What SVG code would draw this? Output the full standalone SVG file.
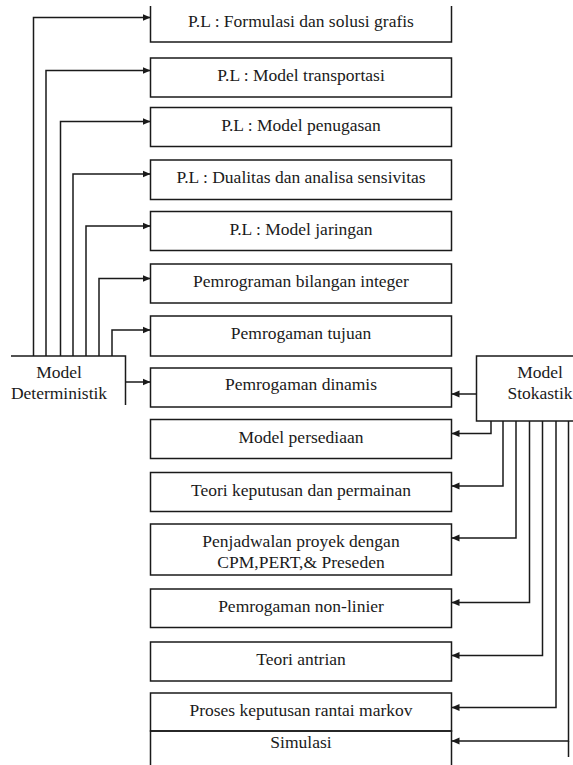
<svg xmlns="http://www.w3.org/2000/svg" width="573" height="765" viewBox="0 0 573 765">
<style>
.box{fill:#fff;stroke:#1a1a1a;stroke-width:1.5}
.open{fill:none;stroke:#1a1a1a;stroke-width:1.5}
.lbl{font-family:"Liberation Serif","Times New Roman",serif;font-size:17.5px;fill:#1a1a1a;text-anchor:middle}
.con path{fill:none;stroke:#1a1a1a;stroke-width:1.5;marker-end:url(#ah)}
.con path.plain{marker-end:none}
</style>
<defs>
<marker id="ah" markerUnits="userSpaceOnUse" markerWidth="10" markerHeight="10" refX="8" refY="4" orient="auto">
<path d="M0,0.5 L8,4 L0,7.5 Z" fill="#1a1a1a"/>
</marker>
</defs>
<rect width="573" height="765" fill="#fff"/>

<g id="n1"><path class="open" d="M150.5,6 V42 H451.5 V6"/><text class="lbl" x="301" y="26.5">P.L : Formulasi dan solusi grafis</text></g>
<g id="n2"><rect class="box" x="150.5" y="58" width="301" height="39"/><text class="lbl" x="301" y="81">P.L : Model transportasi</text></g>
<g id="n3"><rect class="box" x="150.5" y="107.5" width="301" height="39"/><text class="lbl" x="301" y="130.5">P.L : Model penugasan</text></g>
<g id="n4"><rect class="box" x="150.5" y="160" width="301" height="39.5"/><text class="lbl" x="301" y="183">P.L : Dualitas dan analisa sensivitas</text></g>
<g id="n5"><rect class="box" x="150.5" y="211.5" width="301" height="39"/><text class="lbl" x="301" y="234.5">P.L : Model jaringan</text></g>
<g id="n6"><rect class="box" x="150.5" y="264" width="301" height="39"/><text class="lbl" x="301" y="287">Pemrograman bilangan integer</text></g>
<g id="n7"><rect class="box" x="150.5" y="316" width="301" height="40"/><text class="lbl" x="301" y="339">Pemrogaman tujuan</text></g>
<g id="n8"><rect class="box" x="150.5" y="368" width="301" height="39"/><text class="lbl" x="301" y="390">Pemrogaman dinamis</text></g>
<g id="n9"><rect class="box" x="150.5" y="419.5" width="301" height="39"/><text class="lbl" x="301" y="443">Model persediaan</text></g>
<g id="n10"><rect class="box" x="150.5" y="472.5" width="301" height="39"/><text class="lbl" x="301" y="495.5">Teori keputusan dan permainan</text></g>
<g id="n11"><rect class="box" x="150.5" y="524" width="301" height="51"/><text class="lbl" x="301" y="546.5">Penjadwalan proyek dengan</text><text class="lbl" x="301" y="568">CPM,PERT,&amp; Preseden</text></g>
<g id="n12"><rect class="box" x="150.5" y="589" width="301" height="38.5"/><text class="lbl" x="301" y="612">Pemrogaman non-linier</text></g>
<g id="n13"><rect class="box" x="150.5" y="642" width="301" height="39"/><text class="lbl" x="301" y="665">Teori antrian</text></g>
<g id="n14"><rect class="box" x="150.5" y="693" width="301" height="38"/><text class="lbl" x="301" y="716">Proses keputusan rantai markov</text></g>
<g id="n15"><path class="open" d="M150.5,766 V731 H451.5 V766"/><text class="lbl" x="301" y="748">Simulasi</text></g>

<g id="det"><path class="open" d="M11,356 H125.5 V405"/><text class="lbl" x="59" y="378">Model</text><text class="lbl" x="59" y="399">Deterministik</text></g>
<g id="sto"><path class="open" d="M574,356 H476.5 V421 H574"/><text class="lbl" x="540" y="378">Model</text><text class="lbl" x="540" y="399">Stokastik</text></g>

<g id="connectors" class="con">
<path d="M33.5,356 V17.5 H150.5"/>
<path d="M46,356 V70.5 H150.5"/>
<path d="M60.5,356 V121.5 H150.5"/>
<path d="M73,356 V174 H150.5"/>
<path d="M86,356 V226 H150.5"/>
<path d="M99,356 V278.5 H150.5"/>
<path d="M112,356 V330 H150.5"/>
<path d="M125.5,382 H150.5"/>
<path d="M476.5,394 H451.5"/>
<path d="M491,421 V433.5 H451.5"/>
<path d="M503,421 V486 H451.5"/>
<path d="M516,421 V538 H451.5"/>
<path d="M529.5,421 V602.5 H451.5"/>
<path d="M542.5,421 V655.5 H451.5"/>
<path d="M556,421 V707.5 H451.5"/>
<path d="M568.5,421 V741 H451.5"/>
<path class="plain" d="M568.5,741 V757"/>
</g>
</svg>
